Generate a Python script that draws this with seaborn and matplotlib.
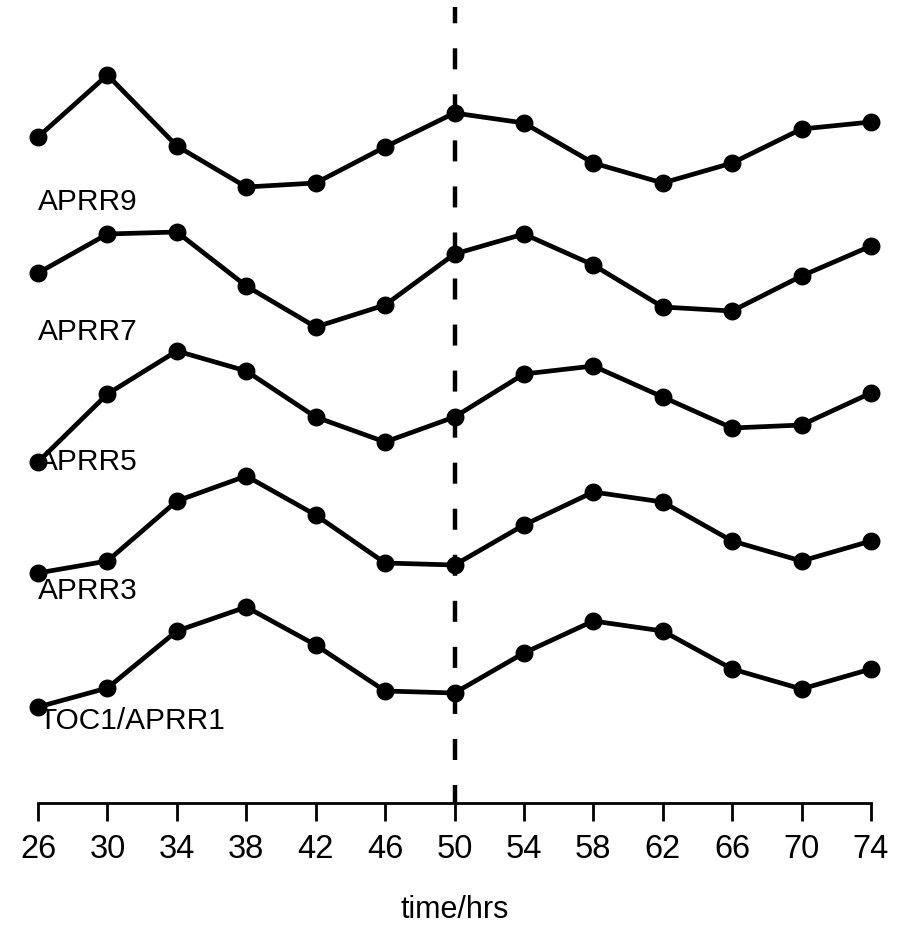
import matplotlib
matplotlib.use("Agg")
import matplotlib.pyplot as plt
import seaborn as sns
import pandas as pd

# ---- data (values are stacked, offset expression) ----
time_hrs = [26, 30, 34, 38, 42, 46, 50, 54, 58, 62, 66, 70, 74]
genes = ["APRR9", "APRR7", "APRR5", "APRR3", "TOC1/APRR1"]
aprr9 = [666, 728, 657, 616, 620, 656, 690, 680, 640, 620, 640, 674, 681]
aprr7 = [530, 569, 571, 517, 476, 498, 549, 569, 538, 496, 492, 527, 557]
aprr5 = [341, 409, 452, 432, 386, 361, 386, 429, 437, 406, 375, 378, 410]
aprr3 = [230, 242, 302, 327, 288, 240, 238, 278, 311, 301, 262, 242, 262]
toc1 = [96, 115, 172, 196, 158, 112, 110, 150, 182, 172, 134, 114, 134]
label_y = [601, 471, 341, 212, 82]
marker_time = 50
xticks = [26, 30, 34, 38, 42, 46, 50, 54, 58, 62, 66, 70, 74]

series = [aprr9, aprr7, aprr5, aprr3, toc1]
df = pd.concat(
    [pd.DataFrame({"time": time_hrs, "value": v, "gene": g}) for g, v in zip(genes, series)],
    ignore_index=True,
)

sns.set_theme(style="white")
plt.rcParams["font.family"] = ["Liberation Sans", "DejaVu Sans"]
plt.rcParams["text.color"] = "black"
plt.rcParams["axes.labelcolor"] = "black"

fig = plt.figure(figsize=(9.05, 9.31), dpi=100)
ax = fig.add_axes([4.7 / 905, (931 - 803) / 931, 899.6 / 905, 796 / 931])

sns.lineplot(
    data=df, x="time", y="value", hue="gene", units="gene", estimator=None,
    palette={g: "black" for g in genes}, legend=False, ax=ax,
    linewidth=3.4, marker="o", markersize=7.5, markeredgewidth=5.4,
    markerfacecolor="none", markeredgecolor="black", sort=False,
)

ax.axvline(marker_time, color="black", linewidth=3.2,
           linestyle=(0.68, (4.73, 5.63)))

for g, ly in zip(genes, label_y):
    ax.text(26, ly, g, ha="left", va="center", fontsize=21.5, color="black")

ax.set_xlim(24.08, 75.92)
ax.set_ylim(0, 796)
ax.set_yticks([])
ax.set_ylabel("")
ax.set_xticks(xticks)
ax.set_xticklabels([str(t) for t in xticks], fontsize=23.5)
ax.set_xlabel("time/hrs", fontsize=22, labelpad=22, color="black")
for s in ["top", "right", "left"]:
    ax.spines[s].set_visible(False)
ax.spines["bottom"].set_bounds(26, 74)
ax.spines["bottom"].set_linewidth(2.0)
ax.spines["bottom"].set_color("black")
ax.tick_params(axis="x", direction="out", length=13, width=2.0, color="black",
               pad=9, bottom=True, labelcolor="black")
ax.patch.set_alpha(0)

fig.savefig("out.png", dpi=100, facecolor="white")
